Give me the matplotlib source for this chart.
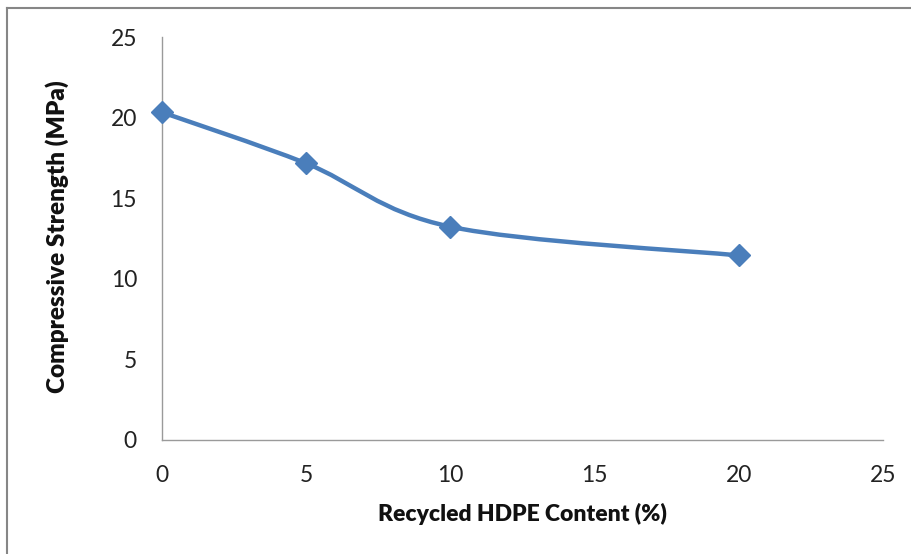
import matplotlib
matplotlib.use("Agg")
import matplotlib.pyplot as plt
from matplotlib.path import Path
from matplotlib.patches import PathPatch
from matplotlib.lines import Line2D
import numpy as np

# Data
hdpe_content = [0, 5, 10, 20]
compressive_strength = [20.33, 17.16, 13.23, 11.45]
x_ticks = [0, 5, 10, 15, 20, 25]
y_ticks = [0, 5, 10, 15, 20, 25]
x_label = "Recycled HDPE Content (%)"
y_label = "Compressive Strength (MPa)"

W, H = 912, 554
fig = plt.figure(figsize=(W / 100, H / 100), dpi=100)
plt.rcParams['font.family'] = ['Lato', 'DejaVu Sans']

ax = fig.add_axes([162 / W, 1 - 440 / H, (883 - 162) / W, (440 - 37) / H])
ax.set_xlim(0, 25)
ax.set_ylim(0, 25)
ax.set_xticks(x_ticks)
ax.set_yticks(y_ticks)
ax.tick_params(length=0, labelsize=16.5, colors='#222222')
ax.tick_params(axis='y', pad=18)
ax.tick_params(axis='x', pad=18)
for s in ['top', 'right']:
    ax.spines[s].set_visible(False)
for s in ['left', 'bottom']:
    ax.spines[s].set_color('#9a9a9a')
    ax.spines[s].set_linewidth(1.0)

color = '#4A7EBB'

# Smoothed line (Catmull-Rom style Bezier like Excel's smoothed line)
xs = np.array(hdpe_content, dtype=float)
ys = np.array(compressive_strength, dtype=float)
n = len(xs)
verts = [(xs[0], ys[0])]
codes = [Path.MOVETO]
for i in range(n - 1):
    p0 = np.array([xs[max(i - 1, 0)], ys[max(i - 1, 0)]])
    p1 = np.array([xs[i], ys[i]])
    p2 = np.array([xs[i + 1], ys[i + 1]])
    p3 = np.array([xs[min(i + 2, n - 1)], ys[min(i + 2, n - 1)]])
    c1 = p1 + (p2 - p0) / 6.0
    c2 = p2 - (p3 - p1) / 6.0
    verts += [tuple(c1), tuple(c2), tuple(p2)]
    codes += [Path.CURVE4] * 3
path = Path(verts, codes)
patch = PathPatch(path, facecolor='none', edgecolor=color, linewidth=3.2,
                  capstyle='round', joinstyle='round', zorder=3)
ax.add_patch(patch)

ax.plot(hdpe_content, compressive_strength, linestyle='none', marker='D',
        markersize=11, color=color, markeredgecolor=color, zorder=4,
        clip_on=False)

fig.text(522 / W, 1 - 514 / H, x_label, ha='center', va='center',
         fontsize=16.5, fontweight='heavy', color='#111111')
fig.text(57 / W, 1 - 237 / H, y_label, ha='center', va='center',
         rotation=90, fontsize=17.5, fontweight='heavy', color='#111111')

# Outer border (top and left)
fig.add_artist(Line2D([7 / W, 1.0], [1 - 8 / H, 1 - 8 / H], transform=fig.transFigure,
                      color='#868686', linewidth=1.5))
fig.add_artist(Line2D([7 / W, 7 / W], [0.0, 1 - 8 / H], transform=fig.transFigure,
                      color='#868686', linewidth=1.5))

fig.savefig('out.png', dpi=100, facecolor='white')
